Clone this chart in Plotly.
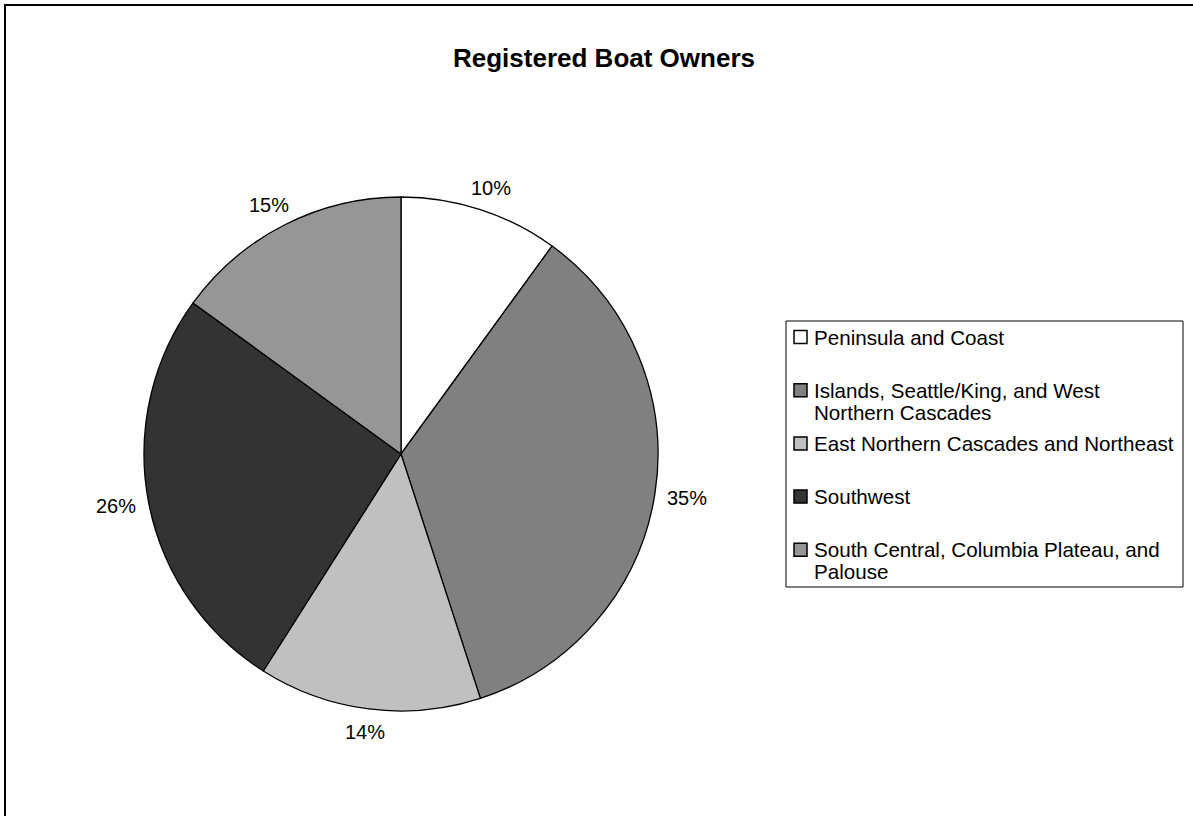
import math
import plotly.graph_objects as go

# ---------------- data ----------------
regions = [
    "Peninsula and Coast",
    "Islands, Seattle/King, and West<br>Northern Cascades",
    "East Northern Cascades and Northeast",
    "Southwest",
    "South Central, Columbia Plateau, and<br>Palouse",
]
shares = [10, 35, 14, 26, 15]
title_text = "Registered Boat Owners"

# ---------------- style ----------------
slice_colors = ["#FFFFFF", "#808080", "#C0C0C0", "#333333", "#969696"]
FONT = "Arial, Liberation Sans, sans-serif"
W, H = 1193, 816
CX, CY, R = 401, 454, 257          # pie centre / radius in pixels
LAB_RX, LAB_RY = 290, 280           # label ellipse radii

def px(x):
    return x / W

def py(y):
    return 1 - y / H

fig = go.Figure()
fig.add_trace(go.Pie(
    labels=[r.replace("<br>", " ") for r in regions],
    values=shares,
    sort=False,
    direction="clockwise",
    rotation=0,
    marker=dict(colors=slice_colors, line=dict(color="#000000", width=1.3)),
    textinfo="none",
    hoverinfo="label+percent",
    showlegend=False,
    domain=dict(x=[px(CX - R), px(CX + R)], y=[py(CY + R), py(CY - R)]),
))

annotations = []
shapes = []

# percentage labels around the pie
total = sum(shares)
cum = 0
for v in shares:
    mid = (cum + v / 2) / total * 2 * math.pi
    cum += v
    lx = CX + LAB_RX * math.sin(mid)
    ly = CY - LAB_RY * math.cos(mid)
    annotations.append(dict(
        x=px(lx), y=py(ly), xref="paper", yref="paper",
        text=f"{round(v / total * 100)}%", showarrow=False,
        xanchor="center", yanchor="middle",
        font=dict(family=FONT, size=20, color="#000000"),
    ))

# title
annotations.append(dict(
    x=px(604), y=py(58), xref="paper", yref="paper",
    text=f"<b>{title_text}</b>", showarrow=False,
    xanchor="center", yanchor="middle",
    font=dict(family=FONT, size=26, color="#000000"),
))

# manual legend
LG_L, LG_R, LG_T, LG_B = 786, 1183, 321, 587
shapes.append(dict(type="rect", xref="paper", yref="paper",
                   x0=px(LG_L), x1=px(LG_R), y0=py(LG_B), y1=py(LG_T),
                   line=dict(color="#000000", width=1), fillcolor="rgba(0,0,0,0)"))
first_y = 337
step = 53.2
line_gap = 22
for i, (name, col) in enumerate(zip(regions, slice_colors)):
    yc = first_y + i * step
    shapes.append(dict(type="rect", xref="paper", yref="paper",
                       x0=px(794), x1=px(807), y0=py(yc + 6.5), y1=py(yc - 6.5),
                       line=dict(color="#000000", width=1.5), fillcolor=col))
    for k, part in enumerate(name.split("<br>")):
        annotations.append(dict(
            x=px(812), y=py(yc + k * line_gap), xref="paper", yref="paper",
            text=part, showarrow=False, xanchor="left", yanchor="middle",
            font=dict(family=FONT, size=20.6, color="#000000"),
        ))

# outer chart border (extends past right/bottom edges)
shapes.append(dict(type="rect", xref="paper", yref="paper",
                   x0=px(5), x1=px(W + 20), y0=py(H + 20), y1=py(5),
                   line=dict(color="#000000", width=2), fillcolor="rgba(0,0,0,0)"))

fig.update_layout(
    width=W, height=H,
    margin=dict(l=0, r=0, t=0, b=0),
    paper_bgcolor="#FFFFFF",
    plot_bgcolor="#FFFFFF",
    annotations=annotations,
    shapes=shapes,
    showlegend=False,
)

fig.write_html(
    "out.html",
    config={"displayModeBar": False},
    post_script="document.body.style.margin='0';document.body.style.overflow='hidden';",
)
